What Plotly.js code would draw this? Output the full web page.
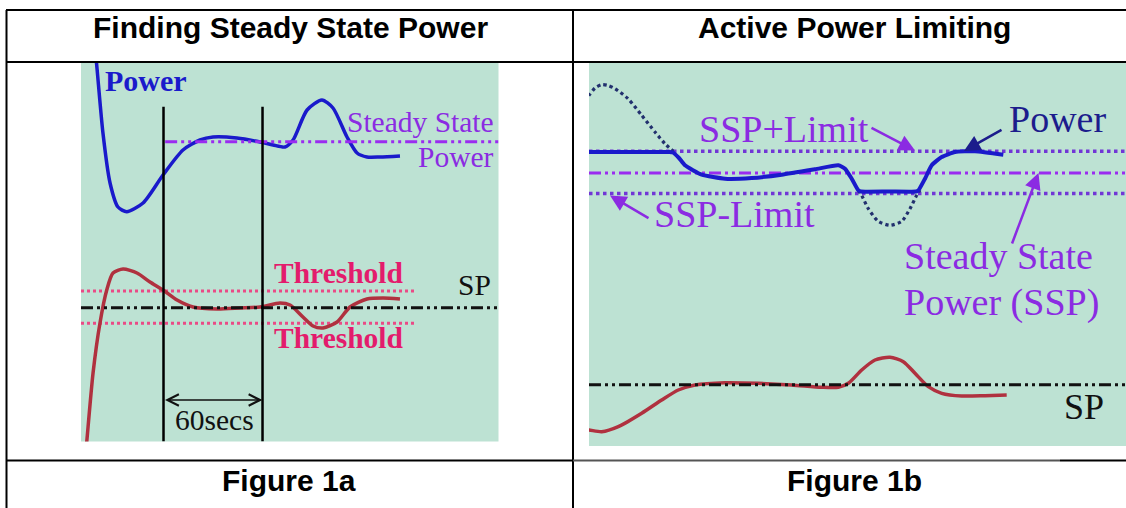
<!DOCTYPE html>
<html><head><meta charset="utf-8">
<script src="https://cdn.plot.ly/plotly-3.0.1.min.js"></script>
<style>html,body{margin:0;padding:0;background:#fff;} #chart{width:1126px;height:508px;}</style>
</head><body><div id="chart"></div>
<script>
// ---------- Figure 1a: Finding Steady State Power (time in s, arbitrary level) ----------
const a_time_power = [8.5, 9.4, 13.3, 17.6, 22.4, 27.7, 37.6, 49.7, 61.8, 72.1, 80.0, 94.5, 108.5, 116.4, 123.6, 128.5, 137.0, 146.0, 152.7, 161.2, 167.3, 173.3, 181.2, 193.3];
const a_power      = [391.5, 378.5, 308.5, 258.5, 234.5, 229.8, 238.5, 266.5, 291.5, 301.5, 304.5, 303.5, 299.5, 296.5, 294.5, 301.5, 331.5, 341.5, 333.5, 304.5, 288.5, 284.5, 284.5, 285.5];
const a_time_sig   = [3.0, 3.5, 7.3, 11.5, 15.6, 19.4, 25.5, 33.9, 41.8, 49.7, 58.2, 67.9, 82.4, 96.4, 108.5, 120.6, 126.7, 134.5, 140.6, 146.7, 155.2, 163.0, 173.3, 183.0, 193.3];
const a_sig        = [-8.5, 0, 68.5, 118.5, 151.5, 168.5, 172.5, 168.5, 159.5, 151.5, 141.5, 134.5, 132.5, 133.5, 134.5, 138.5, 136.5, 124.5, 115.5, 113.5, 119.5, 134.5, 142.5, 143.5, 142.5];
const a_ssp = 299.8, a_sp = 133.8, a_thrHi = 150.5, a_thrLo = 118.2;
const a_window = [50, 110];          // 60 s window
const a_windowTop = 334.8;
const a_tRange = [0, 253], a_yRange = [0, 378.5];
const a_sspStart = 51, a_thrEnd = 202.4;

// ---------- Figure 1b: Active Power Limiting ----------
const b_x_unlim = [-4, 0, 6, 12.7, 19, 26, 39, 52.7, 66, 76, 84.3, null, 269.3, 273, 279.3, 289.3, 301, 312.7, 321, 327.7, 331];
const b_unlim   = [345, 350.7, 358, 361.3, 360.5, 357.3, 347.3, 330.7, 314, 302.3, 294.7, null, 255.7, 250, 237.3, 224.7, 220.7, 224.7, 237.3, 250.7, 256];
const b_x_power = [-3, 60, 80, 84, 90, 96, 112.7, 136, 162.7, 192.7, 226, 249.3, 256, 262.7, 269.3, 272, 300, 327, 329.3, 336, 342.7, 352.7, 366, 386, 414.3];
const b_power   = [294, 294, 294, 293.5, 288, 280.7, 271.3, 267.3, 268, 271.3, 276.7, 280.7, 277.3, 267.3, 255.7, 254.5, 254.5, 254.5, 255.5, 267.3, 280.7, 289, 294, 294.7, 291.3];
const b_x_sig   = [-4, 0, 12.7, 29.3, 52.7, 72.7, 89.3, 106, 136, 169.3, 202.7, 232.7, 249.3, 259.3, 272.7, 286, 301, 314.3, 326, 339.3, 352.7, 372.7, 396, 417.7];
const b_sig     = [16, 16, 14.3, 19.3, 32.7, 46, 56, 61, 63.3, 62.7, 61, 58.7, 58.7, 62.7, 76, 86, 88.7, 84.3, 72.7, 59.3, 52.7, 50, 50.3, 51];
const b_sspHi = 294.7, b_ssp = 273, b_sspLo = 252.5, b_sp = 61.3;
const b_xRange = [0, 537], b_yRange = [0, 383];

// ---------- text ----------
const headers = ["Finding Steady State Power", "Active Power Limiting"];
const footers = ["Figure 1a", "Figure 1b"];

// ---------- styles ----------
const BLUE = '#1a1acb', NAVY = '#1c1c8c', PURPLE = '#8b2be2', PURPLE_LINE = '#9a2cf0';
const LIMIT_DOT = '#7136d6', RED = '#b0313f', PINK = '#ea4a86', THR = '#e31c6c';
const GREEN = '#bde2d3';
const DASHDOT = '12px,4px,3px,4px,3px,4px';
const SERIF = 'Liberation Serif, Times New Roman, serif';
const SANS = 'Liberation Sans, Arial, sans-serif';

function tr(x, y, ax, color, width, dash, shape, smooth) {
  return {type: 'scatter', mode: 'lines', x: x, y: y, xaxis: ax[0], yaxis: ax[1],
    line: {color: color, width: width, dash: dash || 'solid', shape: shape || 'linear', smoothing: smooth || 0.7},
    connectgaps: false, hoverinfo: 'skip', showlegend: false};
}
const A = ['x', 'y'], B = ['x2', 'y2'];

const data = [
  // Figure 1a
  tr([0, a_thrEnd], [a_thrHi, a_thrHi], A, PINK, 3, 'dot'),
  tr([0, a_thrEnd], [a_thrLo, a_thrLo], A, PINK, 3, 'dot'),
  tr(a_time_sig, a_sig, A, RED, 3.5, 'solid', 'spline'),
  tr(a_tRange, [a_sp, a_sp], A, '#111', 3, DASHDOT),
  tr(a_time_power, a_power, A, BLUE, 3.5, 'solid', 'spline'),
  tr([a_sspStart, a_tRange[1]], [a_ssp, a_ssp], A, PURPLE_LINE, 3, DASHDOT),
  tr([a_window[0], a_window[0]], [a_yRange[0], a_windowTop], A, '#000', 2.5),
  tr([a_window[1], a_window[1]], [a_yRange[0], a_windowTop], A, '#000', 2.5),
  // Figure 1b
  tr(b_xRange, [b_sspHi, b_sspHi], B, LIMIT_DOT, 3.5, 'dot'),
  tr(b_xRange, [b_sspLo, b_sspLo], B, LIMIT_DOT, 3.5, 'dot'),
  tr(b_xRange, [b_ssp, b_ssp], B, PURPLE_LINE, 3, DASHDOT),
  tr(b_x_unlim, b_unlim, B, '#22306e', 3.2, 'dot', 'spline'),
  tr(b_x_power, b_power, B, BLUE, 4, 'solid', 'spline', 0.5),
  tr(b_x_sig, b_sig, B, RED, 3.5, 'solid', 'spline'),
  tr(b_xRange, [b_sp, b_sp], B, '#111', 3, DASHDOT)
];

const W = 1126, H = 508;
const px = v => v / W, py = v => 1 - v / H;

function hline(x0, x1, y, color, w) {
  return {type: 'line', xref: 'paper', yref: 'paper', x0: px(x0), x1: px(x1), y0: py(y), y1: py(y),
    line: {color: color || '#000', width: w || 2}, layer: 'above'};
}
function vline(x, y0, y1, color, w) {
  return {type: 'line', xref: 'paper', yref: 'paper', x0: px(x), x1: px(x), y0: py(y0), y1: py(y1),
    line: {color: color || '#000', width: w || 2}, layer: 'above'};
}
const shapes = [
  hline(6, 1126, 10), vline(6.5, 10, 508), vline(573, 10, 508), hline(6, 1126, 62),
  hline(6, 573, 460.5), hline(573, 1060, 460.5, '#555'), hline(1060, 1126, 460.5)
];

function txt(x, y, text, o) {
  return Object.assign({x: x, y: y, text: text, showarrow: false, xanchor: 'left', yanchor: 'middle'}, o);
}
const fA = (size, color, bold) => ({family: SERIF, size: size, color: color, weight: bold ? 'bold' : 'normal'});

const annotations = [
  // table text
  txt(px(290), py(27.6), headers[0], {xref: 'paper', yref: 'paper', xanchor: 'center', font: {family: SANS, size: 30, color: '#000', weight: 'bold'}}),
  txt(px(854), py(27.6), headers[1], {xref: 'paper', yref: 'paper', xanchor: 'center', font: {family: SANS, size: 30, color: '#000', weight: 'bold'}}),
  txt(px(289), py(480.3), footers[0], {xref: 'paper', yref: 'paper', xanchor: 'center', font: {family: SANS, size: 30, color: '#000', weight: 'bold'}}),
  txt(px(854.5), py(480.3), footers[1], {xref: 'paper', yref: 'paper', xanchor: 'center', font: {family: SANS, size: 30, color: '#000', weight: 'bold'}}),
  // Figure 1a labels
  txt(13.6, 361, 'Power', {xref: 'x', yref: 'y', font: fA(30, BLUE, true)}),
  txt(251.5, 319.5, 'Steady State', {xref: 'x', yref: 'y', xanchor: 'right', font: fA(29.5, PURPLE)}),
  txt(251.5, 284.8, 'Power', {xref: 'x', yref: 'y', xanchor: 'right', font: fA(29.5, PURPLE)}),
  txt(115.8, 168.7, 'Threshold', {xref: 'x', yref: 'y', font: fA(29.5, THR, true)}),
  txt(115.8, 103.7, 'Threshold', {xref: 'x', yref: 'y', font: fA(29.5, THR, true)}),
  txt(227.3, 156.7, 'SP', {xref: 'x', yref: 'y', font: fA(29.5, '#111')}),
  txt(80.6, 21.5, '60secs', {xref: 'x', yref: 'y', xanchor: 'center', font: fA(29.5, '#111')}),
  {x: a_window[1], y: 41.5, ax: a_window[0], ay: 41.5, xref: 'x', yref: 'y', axref: 'x', ayref: 'y', text: '',
   showarrow: true, arrowside: 'end+start', arrowhead: 5, startarrowhead: 5, arrowsize: 1.4, startarrowsize: 1.4,
   arrowwidth: 1.6, arrowcolor: '#111', standoff: 0, startstandoff: 0},
  // Figure 1b labels
  txt(108, 317, 'SSP+Limit', {xref: 'x2', yref: 'y2', font: fA(38, PURPLE)}),
  txt(63, 232, 'SSP-Limit', {xref: 'x2', yref: 'y2', font: fA(38, PURPLE)}),
  txt(418, 327, 'Power', {xref: 'x2', yref: 'y2', font: fA(38, NAVY)}),
  txt(313, 189.6, 'Steady State', {xref: 'x2', yref: 'y2', font: fA(38, PURPLE)}),
  txt(313, 144, 'Power (SSP)', {xref: 'x2', yref: 'y2', font: fA(38, PURPLE)}),
  txt(473, 39, 'SP', {xref: 'x2', yref: 'y2', font: fA(36, '#111')}),
  {x: 326, y: 295.5, ax: 281, ay: 319, xref: 'x2', yref: 'y2', axref: 'x2', ayref: 'y2', text: '', showarrow: true,
   arrowhead: 2, arrowsize: 1.3, arrowwidth: 2.5, arrowcolor: PURPLE, standoff: 0},
  {x: 375, y: 295, ax: 414, ay: 317, xref: 'x2', yref: 'y2', axref: 'x2', ayref: 'y2', text: '', showarrow: true,
   arrowhead: 2, arrowsize: 1.3, arrowwidth: 2.5, arrowcolor: NAVY, standoff: 0},
  {x: 21, y: 250.5, ax: 61, ay: 227, xref: 'x2', yref: 'y2', axref: 'x2', ayref: 'y2', text: '', showarrow: true,
   arrowhead: 2, arrowsize: 1.3, arrowwidth: 2.5, arrowcolor: PURPLE, standoff: 0},
  {x: 449.5, y: 273, ax: 422.5, ay: 201, xref: 'x2', yref: 'y2', axref: 'x2', ayref: 'y2', text: '', showarrow: true,
   arrowhead: 2, arrowsize: 1.3, arrowwidth: 2.5, arrowcolor: PURPLE, standoff: 0}
];

const hidden = {showgrid: false, zeroline: false, showticklabels: false, showline: false, ticks: '', fixedrange: true};
const layout = {
  width: W, height: H,
  margin: {l: 0, r: 0, t: 0, b: 0, pad: 0},
  paper_bgcolor: '#ffffff', plot_bgcolor: GREEN,
  showlegend: false,
  xaxis: Object.assign({domain: [px(81), px(498.5)], range: a_tRange}, hidden),
  yaxis: Object.assign({domain: [py(441.5), py(63)], range: a_yRange}, hidden),
  xaxis2: Object.assign({domain: [px(589), 1], range: b_xRange, anchor: 'y2'}, hidden),
  yaxis2: Object.assign({domain: [py(446), py(63)], range: b_yRange, anchor: 'x2'}, hidden),
  shapes: shapes,
  annotations: annotations
};

Plotly.newPlot('chart', data, layout, {staticPlot: true, displayModeBar: false});
</script></body></html>
